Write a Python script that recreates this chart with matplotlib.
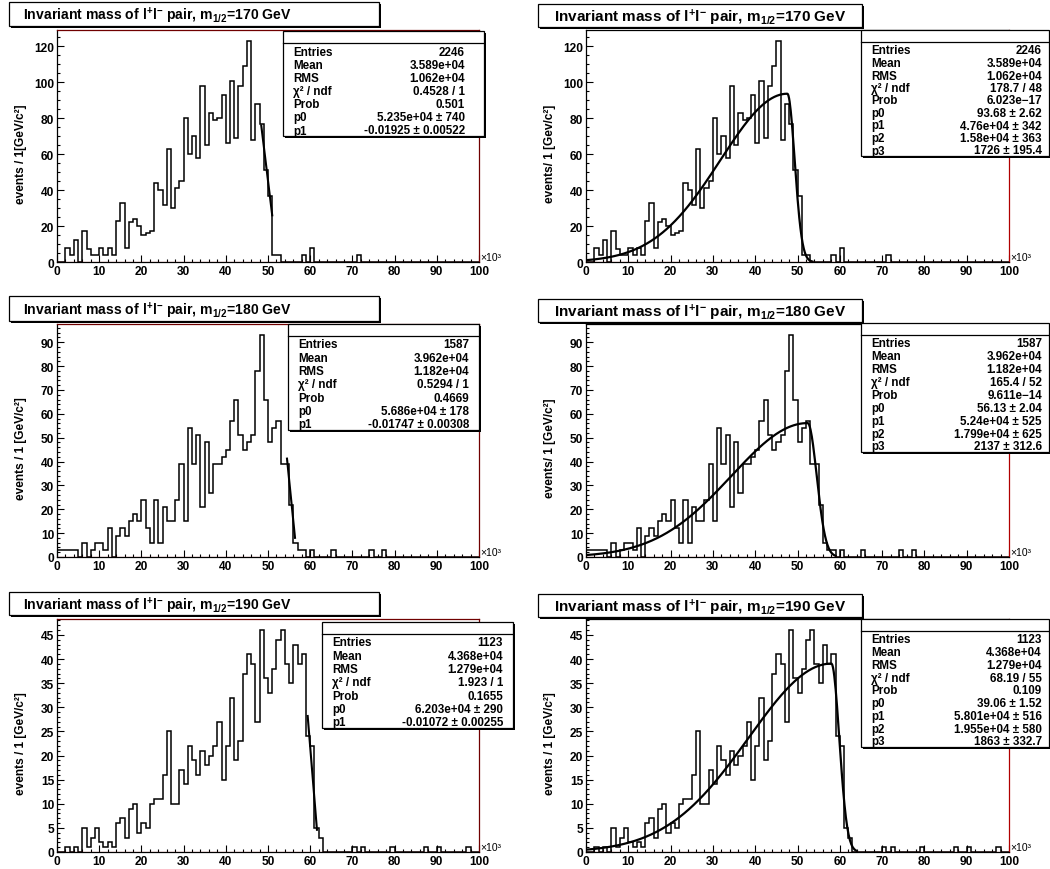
import numpy as np
import matplotlib
matplotlib.use('Agg')
import matplotlib.pyplot as plt
from matplotlib.patches import Rectangle
from matplotlib.ticker import MultipleLocator

plt.rcParams['font.family'] = ['Liberation Sans', 'DejaVu Sans']
plt.rcParams['font.weight'] = 'bold'
plt.rcParams['mathtext.fontset'] = 'custom'
plt.rcParams['mathtext.bf'] = 'Liberation Sans:bold'
plt.rcParams['mathtext.rm'] = 'Liberation Sans:bold'
plt.rcParams['mathtext.default'] = 'bf'

# histogram contents, 100 bins of 1 GeV from 0 to 100 (x in units of 10^3 MeV)
m_half = [170, 180, 190]

h170 = [0, 0, 8, 4, 12, 0, 17, 7, 4, 4,
        8, 4, 8, 4, 23, 33, 8, 22, 24, 20,
        15, 16, 17, 44, 40, 32, 63, 30, 41, 45,
        80, 60, 70, 58, 98, 65, 83, 79, 80, 93,
        66, 101, 69, 98, 109, 123, 68, 88, 77, 51,
        37, 4, 4, 0, 0, 0, 0, 0, 4, 0,
        8, 0, 0, 0, 0, 0, 0, 0, 0, 0,
        0, 4, 0, 0, 0, 0, 0, 0, 0, 0,
        0, 0, 0, 0, 0, 0, 0, 0, 0, 0,
        0, 0, 0, 0, 0, 0, 0, 0, 0, 0]

h180 = [3, 3, 3, 3, 3, 0, 6, 0, 3, 6,
        6, 3, 12, 0, 9, 12, 9, 15, 18, 15,
        24, 12, 6, 24, 6, 21, 15, 15, 24, 39,
        15, 54, 39, 51, 21, 48, 27, 39, 39, 42,
        45, 57, 66, 51, 45, 48, 51, 78, 93, 66,
        48, 54, 57, 39, 39, 22, 6, 3, 3, 0,
        3, 0, 0, 0, 0, 3, 0, 0, 0, 0,
        0, 0, 0, 0, 3, 0, 0, 3, 0, 0,
        0, 0, 0, 0, 0, 0, 0, 0, 0, 0,
        0, 0, 0, 0, 0, 0, 0, 0, 0, 0]

h190 = [0, 0, 1, 0, 1, 0, 5, 1, 3, 5,
        2, 1, 2, 1, 6, 7, 3, 9, 10, 4,
        6, 5, 10, 11, 11, 16, 25, 10, 10, 17,
        14, 22, 19, 16, 21, 18, 20, 22, 27, 15,
        22, 32, 19, 23, 37, 41, 39, 27, 46, 36,
        33, 38, 44, 46, 39, 35, 43, 39, 41, 24,
        22, 5, 3, 0, 0, 0, 0, 0, 0, 0,
        1, 0, 1, 0, 0, 0, 0, 0, 0, 1,
        0, 0, 0, 0, 0, 0, 0, 1, 0, 0,
        1, 0, 0, 0, 0, 0, 0, 1, 0, 0]

hists = [h170, h180, h190]

# linear edge fit  f = p1*(x - p0), x in MeV
lin_p0 = [52350, 56860, 62030]
lin_p1 = [-0.01925, -0.01747, -0.01072]
lin_lo = [48.4, 54.5, 59.4]
lin_hi = [51.0, 56.4, 61.6]

# asymmetric gaussian fit: p0, p1 (peak), p2 (left sigma), p3 (right sigma), MeV
gaus_p0 = [93.68, 56.13, 39.06]
gaus_p1 = [47600, 52400, 58010]
gaus_p2 = [15800, 17990, 19550]
gaus_p3 = [1726, 2137, 1863]
gaus_hi = [53.5, 59.0, 64.0]

entries = ['2246', '1587', '1123']
means = ['3.589e+04', '3.962e+04', '4.368e+04']
rmss = ['1.062e+04', '1.182e+04', '1.279e+04']

left_chi = ['0.4528 / 1', '0.5294 / 1', '1.923 / 1']
left_prob = ['0.501', '0.4669', '0.1655']
left_p0 = ['5.235e+04 \u00b1 740', '5.686e+04 \u00b1 178', '6.203e+04 \u00b1 290']
left_p1 = ['-0.01925 \u00b1 0.00522', '-0.01747 \u00b1 0.00308', '-0.01072 \u00b1 0.00255']

right_chi = ['178.7 / 48', '165.4 / 52', '68.19 / 55']
right_prob = ['6.023e\u221217', '9.611e\u221214', '0.109']
right_p0 = ['93.68 \u00b1 2.62', '56.13 \u00b1 2.04', '39.06 \u00b1 1.52']
right_p1 = ['4.76e+04 \u00b1 342', '5.24e+04 \u00b1 525', '5.801e+04 \u00b1 516']
right_p2 = ['1.58e+04 \u00b1 363', '1.799e+04 \u00b1 625', '1.955e+04 \u00b1 580']
right_p3 = ['1726 \u00b1 195.4', '2137 \u00b1 312.6', '1863 \u00b1 332.7']

left_ylabels = ['events / 1[GeV/c\u00b2]', 'events / 1 [GeV/c\u00b2]', 'events / 1 [GeV/c\u00b2]']
right_ylabels = ['events/ 1 [Gev/c\u00b2]', 'events/ 1 [GeV/c\u00b2]', 'events / 1 [GeV/c\u00b2]']
y_major = [20, 10, 5]
y_minor = [5, 2, 1]

W, H = 1050, 870
fig = plt.figure(figsize=(10.5, 8.7), dpi=100)

def px_axes(x0, y0, x1, y1):
    return fig.add_axes([x0 / W, 1 - y1 / H, (x1 - x0) / W, (y1 - y0) / H])

ax_top = [31, 325, 620]
ax_bot = [263, 558, 853]
edges = np.arange(0, 101)

def style_axes(ax, i, ylabel, right_col):
    ymax = 1.05 * max(hists[i])
    ax.set_xlim(0, 100)
    ax.set_ylim(0, ymax)
    ax.xaxis.set_major_locator(MultipleLocator(10))
    ax.xaxis.set_minor_locator(MultipleLocator(2))
    ax.yaxis.set_major_locator(MultipleLocator(y_major[i]))
    ax.yaxis.set_minor_locator(MultipleLocator(y_minor[i]))
    ax.tick_params(which='both', direction='in', top=False, right=False,
                   labelsize=8.6, width=0.8, pad=2)
    ax.tick_params(which='major', length=5)
    ax.tick_params(which='minor', length=2.5)
    for lab in ax.get_xticklabels() + ax.get_yticklabels():
        lab.set_fontweight('bold')
    for s in ax.spines.values():
        s.set_linewidth(0.9)
    ax.spines['right'].set_color('#b00000' if right_col else '#700000')
    if not right_col:
        ax.spines['top'].set_color('#700000')
    ax.axhline(0, color='red', lw=0.8, zorder=5)
    ax.set_ylabel(ylabel, fontsize=8.6, fontweight='bold')
    ax.yaxis.set_label_coords(-0.07, 0.47)
    ax.text(1.004, 0.0, '\u00d710\u00b3', transform=ax.transAxes, ha='left',
            va='bottom', fontsize=7.5, fontweight='normal')

for i in range(3):
    # left: linear edge fit
    axl = px_axes(57, ax_top[i], 479, ax_bot[i])
    axl.stairs(hists[i], edges, color='black', lw=1.1)
    xl = np.linspace(lin_lo[i], lin_hi[i], 20)
    axl.plot(xl, lin_p1[i] * (xl * 1000 - lin_p0[i]), color='black', lw=1.5)
    style_axes(axl, i, left_ylabels[i], False)

    # right: asymmetric gaussian fit
    axr = px_axes(586, ax_top[i], 1009, ax_bot[i])
    axr.stairs(hists[i], edges, color='black', lw=1.1)
    xr = np.linspace(0, gaus_hi[i], 400)
    xm = xr * 1000
    sig = np.where(xm < gaus_p1[i], gaus_p2[i], gaus_p3[i])
    axr.plot(xr, gaus_p0[i] * np.exp(-0.5 * ((xm - gaus_p1[i]) / sig) ** 2),
             color='black', lw=1.6)
    style_axes(axr, i, right_ylabels[i], True)

# overlay for title and stats boxes, in pixel coordinates
ov = fig.add_axes([0, 0, 1, 1])
ov.set_xlim(0, W)
ov.set_ylim(H, 0)
ov.axis('off')
ov.set_zorder(10)

def box(x0, y0, x1, y1):
    ov.add_patch(Rectangle((x0 + 1.5, y0 + 1.5), x1 - x0, y1 - y0, fc='black', ec='none'))
    ov.add_patch(Rectangle((x0, y0), x1 - x0, y1 - y0, fc='white', ec='black', lw=0.9))

title_tpl = r'Invariant mass of l$^{+}$l$^{-}$ pair, m$_{1/2}$=%d GeV'
tl_top = [3, 297, 593]
tl_bot = [27, 322, 616]
tr_top = [5, 300, 595]
tr_bot = [28, 323, 618]
for i in range(3):
    box(9, tl_top[i], 379, tl_bot[i])
    ov.text(23, (tl_top[i] + tl_bot[i]) / 2 + 1, title_tpl % m_half[i], fontsize=10.1,
            fontweight='bold', ha='left', va='center')
    box(538, tr_top[i], 862, tr_bot[i])
    ov.text(554, (tr_top[i] + tr_bot[i]) / 2 + 1, title_tpl % m_half[i], fontsize=11.0,
            fontweight='bold', ha='left', va='center')

def stats(x0, x1, y0, y1, rows, vpad):
    box(x0, y0, x1, y1)
    ov.plot([x0, x1], [y0 + 11.5, y0 + 11.5], color='black', lw=0.9)
    first, last = y0 + 20.5, y1 - 5.5
    step = (last - first) / (len(rows) - 1)
    for k, (lab, val) in enumerate(rows):
        y = first + k * step
        ov.text(x0 + 10, y, lab, fontsize=8.4, fontweight='bold', ha='left', va='center')
        ov.text(x1 - vpad, y, val, fontsize=8.4, fontweight='bold', ha='right', va='center')

sl_x = [(283, 484), (288, 479), (322, 513)]
sl_top = [32, 325, 623]
sl_bot = [137, 431, 729]
sr_top = [31, 324, 620]
sr_bot = [157, 453, 748]
for i in range(3):
    rows_l = [('Entries', entries[i]), ('Mean', means[i]), ('RMS', rmss[i]),
              ('\u03c7\u00b2 / ndf', left_chi[i]), ('Prob', left_prob[i]),
              ('p0', left_p0[i]), ('p1', left_p1[i])]
    stats(sl_x[i][0], sl_x[i][1], sl_top[i], sl_bot[i], rows_l, 19 if i == 0 else 10)
    rows_r = [('Entries', entries[i]), ('Mean', means[i]), ('RMS', rmss[i]),
              ('\u03c7\u00b2 / ndf', right_chi[i]), ('Prob', right_prob[i]),
              ('p0', right_p0[i]), ('p1', right_p1[i]), ('p2', right_p2[i]),
              ('p3', right_p3[i])]
    stats(861, 1049, sr_top[i], sr_bot[i], rows_r, 7)

fig.savefig('out.png', dpi=100)
